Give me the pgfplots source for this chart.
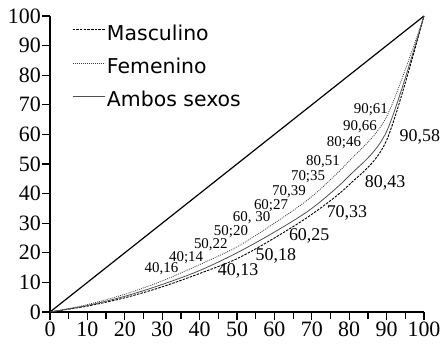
\documentclass[border=0pt]{standalone}
\usepackage{pgfplots}
\pgfplotsset{compat=1.18}
\usepackage{fontspec}
\setmainfont{Liberation Serif}
\newfontfamily\legfont{DejaVu Sans}
\definecolor{ambos}{RGB}{80,80,80}
\definecolor{femc}{RGB}{60,60,60}
\begin{document}
\begin{tikzpicture}
\begin{axis}[
  scale only axis, width=374bp, height=296bp,
  xmin=0, xmax=100, ymin=0, ymax=100,
  axis lines=left, axis line style={-, line width=1.3bp, black},
  xtick={0,10,...,100}, ytick={0,10,...,100},
  minor xtick={5,15,...,95},
  tick align=outside,
  every tick/.style={black, line width=1.2bp},
  major tick length=8bp, minor tick length=7bp,
  xtick pos=bottom, ytick pos=left,
  /pgf/number format/assume math mode=true,
  tick label style={font=\fontsize{22}{24}\selectfont},
  yticklabel style={inner xsep=1bp},
  xticklabel style={inner ysep=2bp},
  clip=false,
  legend style={draw=none, fill=none, at={(axis cs:5.9,97.5)}, anchor=north west,
    inner sep=0pt, outer sep=0pt, font=\legfont\fontsize{20.5}{24}\selectfont,
    row sep=12bp, nodes={inner sep=2bp}},
  legend cell align=left,
  legend image code/.code={\draw[#1] (0bp,4bp) -- (32bp,4bp);},
]
\addplot[black, line width=1.2bp, forget plot] coordinates {(0,0) (100,100)};
\addplot[black, line width=0.9bp, dash pattern=on 2.5bp off 1.2bp, smooth] coordinates {
(0,0) (10,2) (20,4.8) (30,8.5) (40,13) (50,18) (60,25) (70,33) (80,43) (90,58) (100,100)};
\addlegendentry{Masculino}
\addplot[femc, line width=0.8bp, dash pattern=on 0.9bp off 1.1bp, smooth] coordinates {
(0,0) (10,2.5) (20,6) (30,10.5) (40,16) (50,22) (60,30) (70,39) (80,51) (90,66) (100,100)};
\addlegendentry{Femenino}
\addplot[ambos, line width=0.8bp, smooth] coordinates {
(0,0) (10,2.2) (20,5.3) (30,9.3) (40,14) (50,20) (60,27) (70,35) (80,46) (90,61) (100,100)};
\addlegendentry{Ambos sexos}
\begin{scope}[every node/.style={font=\fontsize{15}{17}\selectfont, inner sep=0pt}]
\node at (axis cs:85.8,68.2) {90;61};
\node at (axis cs:82.9,62.5) {90,66};
\node at (axis cs:78.6,57.1) {80;46};
\node at (axis cs:73.0,50.7) {80,51};
\node at (axis cs:69.0,45.6) {70;35};
\node at (axis cs:63.9,40.5) {70,39};
\node at (axis cs:59.1,36.0) {60;27};
\node at (axis cs:53.9,31.8) {60, 30};
\node at (axis cs:48.4,27.3) {50;20};
\node at (axis cs:43.0,22.8) {50,22};
\node at (axis cs:36.4,18.3) {40;14};
\node at (axis cs:29.8,14.8) {40,16};
\end{scope}
\begin{scope}[every node/.style={font=\fontsize{18}{20}\selectfont, inner sep=0pt}]
\node at (axis cs:50.3,13.9) {40,13};
\node at (axis cs:60.4,18.9) {50,18};
\node at (axis cs:69.3,25.7) {60,25};
\node at (axis cs:79.4,33.4) {70,33};
\node at (axis cs:89.6,43.6) {80,43};
\node at (axis cs:98.9,59.1) {90,58};
\end{scope}
\end{axis}
\path (-50bp,-32bp) rectangle (396bp,312bp);
\end{tikzpicture}
\end{document}
